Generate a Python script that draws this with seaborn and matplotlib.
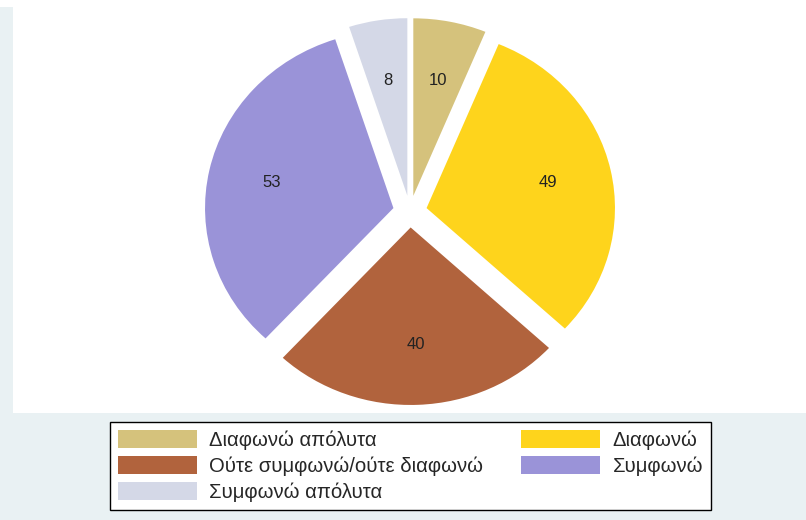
import matplotlib
matplotlib.use("Agg")
import matplotlib.pyplot as plt
from matplotlib.patches import Rectangle
import seaborn as sns

# data, clockwise from 12 o'clock
categories = ["Διαφωνώ απόλυτα", "Διαφωνώ", "Ούτε συμφωνώ/ούτε διαφωνώ",
              "Συμφωνώ", "Συμφωνώ απόλυτα"]
counts = [10, 49, 40, 53, 8]
slice_colors = ["#D5C27C", "#FED41C", "#B1633D", "#9A93D8", "#D4D8E7"]


def main():
    sns.set_theme(style="white")
    plt.rcParams['font.family'] = ['Liberation Sans', 'DejaVu Sans']

    W, H = 806, 520
    fig = plt.figure(figsize=(W / 100, H / 100), dpi=100)
    fig.patch.set_facecolor("#E9F1F3")

    # white strip at the very top and white plot region (behind the axes)
    fig.patches.append(Rectangle((0, 1 - 7 / H), 1, 7 / H, transform=fig.transFigure,
                                 facecolor="white", edgecolor="none", zorder=-5))
    fig.patches.append(Rectangle((13 / W, 1 - 413 / H), 1 - 13 / W, (413 - 7) / H,
                                 transform=fig.transFigure, facecolor="white",
                                 edgecolor="none", zorder=-5))

    # pie: centre at (410, 211.5) px, radius 188 px wide / 177.5 px tall
    cx, cy, rx, ry = 410, 211.5, 188.4, 177.5
    ax = fig.add_axes([(cx - 1.2 * rx) / W, (H - cy - 1.2 * ry) / H,
                       2.4 * rx / W, 2.4 * ry / H])
    ax.patch.set_alpha(0)
    total = sum(counts)
    palette = sns.color_palette(slice_colors)
    wedges, texts, autotexts = ax.pie(
        counts, colors=palette, startangle=90, counterclock=False,
        explode=[0.09] * len(counts), pctdistance=0.66,
        autopct=lambda p: f"{round(p * total / 100):d}",
        wedgeprops=dict(linewidth=0),
        textprops=dict(fontsize=12, color="#222222"))
    ax.set_aspect("auto")
    ax.set_xlim(-1.2, 1.2)
    ax.set_ylim(-1.2, 1.2)
    ax.axis("off")

    # legend in Stata-like row order, 2 columns
    order = [0, 2, 4, 1, 3]
    leg = fig.legend([wedges[i] for i in order], [categories[i] for i in order],
                     ncol=2, loc="upper left",
                     bbox_to_anchor=(110 / W, 1 - 422 / H),
                     bbox_transform=fig.transFigure,
                     fontsize=14.6, frameon=True, fancybox=False, shadow=False,
                     edgecolor="black", facecolor="white", framealpha=1,
                     handlelength=3.9, handleheight=1.0, handletextpad=0.62,
                     columnspacing=1.85, labelspacing=0.3, borderpad=0.38,
                     borderaxespad=0)
    leg.get_frame().set_linewidth(1.0)

    fig.savefig("out.png", dpi=100, facecolor=fig.get_facecolor())


if __name__ == "__main__":
    main()
